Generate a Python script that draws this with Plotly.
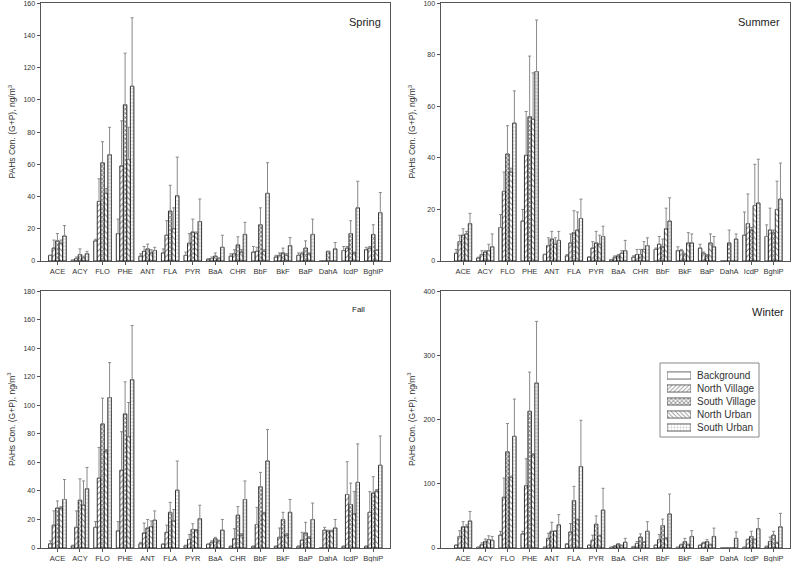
import plotly.graph_objects as go

CATEGORIES = ["ACE", "ACY", "FLO", "PHE", "ANT", "FLA", "PYR", "BaA", "CHR",
              "BbF", "BkF", "BaP", "DahA", "IcdP", "BghiP"]
SITES = ["Background", "North Village", "South Village", "North Urban", "South Urban"]

# ---- Spring: means and top of error bars ----
SPRING_BG = [3.5, 0.5, 12.5, 17, 3, 5, 3.5, 1, 3, 5.5, 2.5, 3.5, 0, 6.5, 7]
SPRING_NV = [8, 1.5, 37, 59, 6, 16, 11, 1.5, 4.5, 6, 3.5, 4.5, 0, 8, 8]
SPRING_SV = [12.5, 4, 61, 97, 7.5, 31, 18, 3, 10, 22.5, 5, 8, 6, 17, 16.5]
SPRING_NU = [11, 2, 42, 63, 5, 20, 17, 1.5, 5.5, 6, 3.5, 4.5, 0, 5, 6.5]
SPRING_SU = [15.5, 4.5, 66, 108.5, 6.5, 40.5, 24.5, 8.5, 16.5, 42, 9.5, 16.5, 7.5, 33, 30]
SPRING_BG_TOP = [3.5, 0.5, 13.5, 26, 4.5, 7.5, 5.5, 1.5, 4.5, 9, 3.5, 5, 0, 9, 8.5]
SPRING_NV_TOP = [13, 2.5, 51, 87, 9, 25, 17, 2.5, 7, 8.5, 5, 5.5, 0, 9, 9]
SPRING_SV_TOP = [17, 7.5, 74, 129, 10.5, 47, 26, 5, 15, 33, 8, 12.5, 6, 25, 22.5]
SPRING_NU_TOP = [13, 3, 45, 83, 7, 33, 18, 2, 7, 7, 4.5, 5, 0, 5.5, 7]
SPRING_SU_TOP = [22, 6, 83, 151, 8.5, 64.5, 38.5, 16, 24, 61, 14.5, 26, 11.5, 49.5, 42.5]

# ---- Summer ----
SUMMER_BG = [3, 1.2, 13, 15.5, 2.5, 2, 1.5, 0.5, 1.5, 4.5, 4, 5, 0, 10, 9.5]
SUMMER_NV = [7.5, 2.5, 27, 41, 6, 7, 5, 1.5, 2.5, 6.5, 4, 3, 0, 14.5, 12]
SUMMER_SV = [10, 3.5, 41.5, 56, 8.5, 11, 7, 2, 2.5, 5.5, 2.5, 2, 7, 12, 11]
SUMMER_NU = [10.5, 4, 34.5, 55, 6.5, 12, 6.5, 3, 4.5, 12.5, 7, 7, 0, 21.5, 20]
SUMMER_SU = [14.5, 5.5, 53.5, 73.5, 8, 16.5, 9.5, 4, 6, 15.5, 7, 5.5, 8.5, 22.5, 24]
SUMMER_BG_TOP = [4.5, 1.5, 18, 20, 2.7, 2.5, 1.7, 0.6, 2, 5, 5.5, 6.5, 0, 19, 14]
SUMMER_NV_TOP = [10, 4, 34.5, 58, 9, 10.5, 7.5, 2, 4.5, 9.5, 4.5, 3.5, 0, 26, 20.5]
SUMMER_SV_TOP = [12.5, 4, 52.5, 79.5, 11.5, 19.5, 11.5, 2.5, 4.5, 8.5, 3, 2.5, 12, 13, 12]
SUMMER_NU_TOP = [11.5, 6.5, 36, 73, 9, 19, 10, 4, 7.5, 20.5, 11, 10.5, 0, 37.5, 31]
SUMMER_SU_TOP = [18.5, 10.5, 66, 93.5, 11.5, 24, 13.5, 8, 9, 24.5, 10.5, 9.5, 10.5, 39.5, 38]

# ---- Fall ----
FALL_BG = [3, 1.5, 14.5, 12, 3, 2.5, 1.5, 2.5, 1, 1, 1, 1, 0, 1, 1]
FALL_NV = [16, 14.5, 49, 54.5, 10.5, 11, 6, 4, 6.5, 16.5, 7.5, 5.5, 12.5, 37.5, 25]
FALL_SV = [28, 33.5, 87, 94, 14, 25, 13, 6.5, 23, 43, 20, 10.5, 12, 30.5, 38.5]
FALL_NU = [28, 30, 68, 78, 15, 19, 12.5, 5, 9, 24.5, 9, 7, 12, 24, 40]
FALL_SU = [34, 41.5, 105.5, 118, 19.5, 40.5, 20.5, 12.5, 34, 61, 25, 20, 14, 46, 58]
FALL_BG_TOP = [5, 2, 18.5, 18.5, 4, 3, 2, 3, 1.5, 1.5, 1.5, 1.5, 0, 1.5, 1.5]
FALL_NV_TOP = [26, 26, 70.5, 81.5, 17.5, 16, 9.5, 5, 13.5, 28.5, 14, 11, 14.5, 60.5, 39.5]
FALL_SV_TOP = [33, 48.5, 105, 116.5, 20, 32, 17, 7.5, 29, 53, 25, 18, 12.5, 45.5, 50]
FALL_NU_TOP = [29, 47, 69, 102, 19, 27, 13, 5.5, 10, 25, 10, 8, 12.5, 39.5, 41]
FALL_SU_TOP = [48, 56.5, 130, 156, 26, 61, 30, 20, 47, 83, 34, 31.5, 20, 73, 78.5]

# ---- Winter ----
WINTER_BG = [4, 1, 20, 22, 1, 6, 4, 1, 2, 4, 1, 4, 0, 1, 2]
WINTER_NV = [18, 5, 79, 97, 15, 25, 12, 3, 7, 13, 5, 8, 0, 13, 10]
WINTER_SV = [33, 10, 150, 213, 26, 74, 37, 6, 17, 35, 10, 10, 0, 18, 20]
WINTER_NU = [33, 13, 110, 145, 26, 44, 19, 4, 9, 15, 5, 5, 0, 13, 8]
WINTER_SU = [42, 12, 174, 257, 36, 127, 59, 9, 26, 53, 18, 18, 15, 30, 33]
WINTER_BG_TOP = [5, 1.5, 26, 26, 1.5, 7, 5, 1.5, 2.5, 5, 1.5, 5, 0, 1.5, 3]
WINTER_NV_TOP = [27, 8, 109, 139, 23, 38, 20, 4, 10, 21, 6, 9, 0, 14, 17]
WINTER_SV_TOP = [41, 14, 194, 274, 40, 96, 50, 7, 22, 45, 15, 13, 0, 26, 26]
WINTER_NU_TOP = [36, 19, 112, 147, 27, 45, 20, 4.5, 10, 16, 6, 6, 0, 14, 9]
WINTER_SU_TOP = [57, 18, 232, 353, 52, 199, 93, 15, 41, 84, 27, 31, 25, 46, 54]

SEASON_NAMES = ["Spring", "Summer", "Fall", "Winter"]
Y_MAX = [160, 100, 180, 400]
Y_DTICK = [20, 20, 20, 100]

season_means = [
    [SPRING_BG, SPRING_NV, SPRING_SV, SPRING_NU, SPRING_SU],
    [SUMMER_BG, SUMMER_NV, SUMMER_SV, SUMMER_NU, SUMMER_SU],
    [FALL_BG, FALL_NV, FALL_SV, FALL_NU, FALL_SU],
    [WINTER_BG, WINTER_NV, WINTER_SV, WINTER_NU, WINTER_SU],
]
season_tops = [
    [SPRING_BG_TOP, SPRING_NV_TOP, SPRING_SV_TOP, SPRING_NU_TOP, SPRING_SU_TOP],
    [SUMMER_BG_TOP, SUMMER_NV_TOP, SUMMER_SV_TOP, SUMMER_NU_TOP, SUMMER_SU_TOP],
    [FALL_BG_TOP, FALL_NV_TOP, FALL_SV_TOP, FALL_NU_TOP, FALL_SU_TOP],
    [WINTER_BG_TOP, WINTER_NV_TOP, WINTER_SV_TOP, WINTER_NU_TOP, WINTER_SU_TOP],
]

PAT_SHAPES = ["", "/", "x", "\\", "+"]
PAT_SIZES = [4, 4, 3, 4, 3.5]
PAT_SOLIDITY = [0.2, 0.25, 0.5, 0.25, 0.2]

W, H = 800, 562
# panel pixel boxes: (left, right, top, bottom)
panels = [(40.5, 389.5, 3, 261), (440.5, 789.5, 3, 261),
          (40.5, 389.5, 291, 548), (440.5, 789.5, 291, 548)]
x_ranges = [[-0.75, 14.72], [-1.02, 14.72], [-0.75, 14.72], [-1.02, 14.72]]

fig = go.Figure()
for s in range(4):
    ax = "" if s == 0 else str(s + 1)
    for k in range(5):
        means = season_means[s][k]
        tops = season_tops[s][k]
        plus = [max(t - m, 0) for t, m in zip(tops, means)]
        fig.add_trace(go.Bar(
            x=CATEGORIES, y=means, name=SITES[k],
            xaxis="x" + ax, yaxis="y" + ax, showlegend=False,
            marker=dict(color="white", line=dict(color="black", width=0.8),
                        pattern=dict(shape=PAT_SHAPES[k], size=PAT_SIZES[k],
                                     solidity=PAT_SOLIDITY[k], fgcolor="black")),
            error_y=dict(type="data", symmetric=False, array=plus,
                         arrayminus=[0] * len(plus), color="#8a8a8a",
                         thickness=1, width=1.5),
        ))

# legend swatches drawn as a small horizontal-bar key (one per site)
fig.add_trace(go.Bar(
    y=SITES, x=[1] * len(SITES), orientation="h", xaxis="x5", yaxis="y5",
    width=0.55, showlegend=False, hoverinfo="skip",
    marker=dict(color="white", line=dict(color="#444", width=0.8),
                pattern=dict(shape=PAT_SHAPES, size=[3] * 5,
                             solidity=[0.2, 0.3, 0.5, 0.3, 0.15], fgcolor="#333")),
))

layout = dict(
    width=W, height=H,
    margin=dict(l=0, r=0, t=0, b=0),
    paper_bgcolor="white", plot_bgcolor="white",
    barmode="group", bargap=0.22, bargroupgap=0,
    font=dict(family="Liberation Sans, Arial, sans-serif", color="#333", size=8),
    showlegend=False,
    annotations=[],
    shapes=[dict(type="rect", xref="paper", yref="paper",
                 x0=660 / W, x1=759 / W, y0=1 - 437 / H, y1=1 - 363 / H,
                 line=dict(color="#888", width=1), fillcolor="rgba(0,0,0,0)",
                 layer="below")],
)

for s in range(4):
    ax = "" if s == 0 else str(s + 1)
    l, r, t, b = panels[s]
    layout["xaxis" + ax] = dict(
        domain=[l / W, r / W], anchor="y" + ax, range=x_ranges[s],
        showline=True, linecolor="#555", linewidth=1, mirror=True,
        ticks="outside", ticklen=3, tickcolor="#555", tickwidth=1,
        tickfont=dict(size=7.5, color="#333"), showgrid=False, automargin=False,
        fixedrange=True, ticklabeloverflow="allow",
    )
    layout["yaxis" + ax] = dict(
        domain=[1 - b / H, 1 - t / H], anchor="x" + ax,
        range=[0, Y_MAX[s] * 1.001], dtick=Y_DTICK[s], tick0=0,
        showline=True, linecolor="#555", linewidth=1, mirror=True,
        ticks="outside", ticklen=3, tickcolor="#555", tickwidth=1,
        tickfont=dict(size=7, color="#333"), showgrid=False, zeroline=False,
        automargin=False, fixedrange=True, ticklabeloverflow="allow",
    )
    layout["annotations"].append(dict(
        text="PAHs Con. (G+P), ng/m<sup>3</sup>", textangle=-90,
        xref="paper", yref="paper", x=(l - 29) / W, y=1 - (t + b) / 2 / H,
        showarrow=False, font=dict(size=8.5, color="#333"),
        xanchor="center", yanchor="middle",
    ))

# legend key axes
layout["xaxis5"] = dict(domain=[667 / W, 691 / W], anchor="y5", range=[0, 1],
                        visible=False, fixedrange=True)
layout["yaxis5"] = dict(domain=[1 - 434 / H, 1 - 369 / H], anchor="x5",
                        side="right", categoryorder="array", categoryarray=SITES,
                        autorange="reversed", showline=False, showgrid=False,
                        zeroline=False, ticks="", ticklabelstandoff=5,
                        tickfont=dict(size=10, color="#333"), automargin=False,
                        fixedrange=True)

season_label_pos = [(383, 22, 11), (782, 22, 11), (367, 309, 8), (786, 312, 11)]
for s in range(4):
    x, y, fs = season_label_pos[s]
    layout["annotations"].append(dict(
        text=SEASON_NAMES[s], xref="paper", yref="paper", x=x / W, y=1 - y / H,
        showarrow=False, xanchor="right", yanchor="middle",
        font=dict(size=fs, color="#222"),
    ))

fig.update_layout(**layout)
fig.write_html("out.html", config={"displayModeBar": False, "staticPlot": True},
               post_script="document.body.style.margin='0px';document.body.style.padding='0px';")
